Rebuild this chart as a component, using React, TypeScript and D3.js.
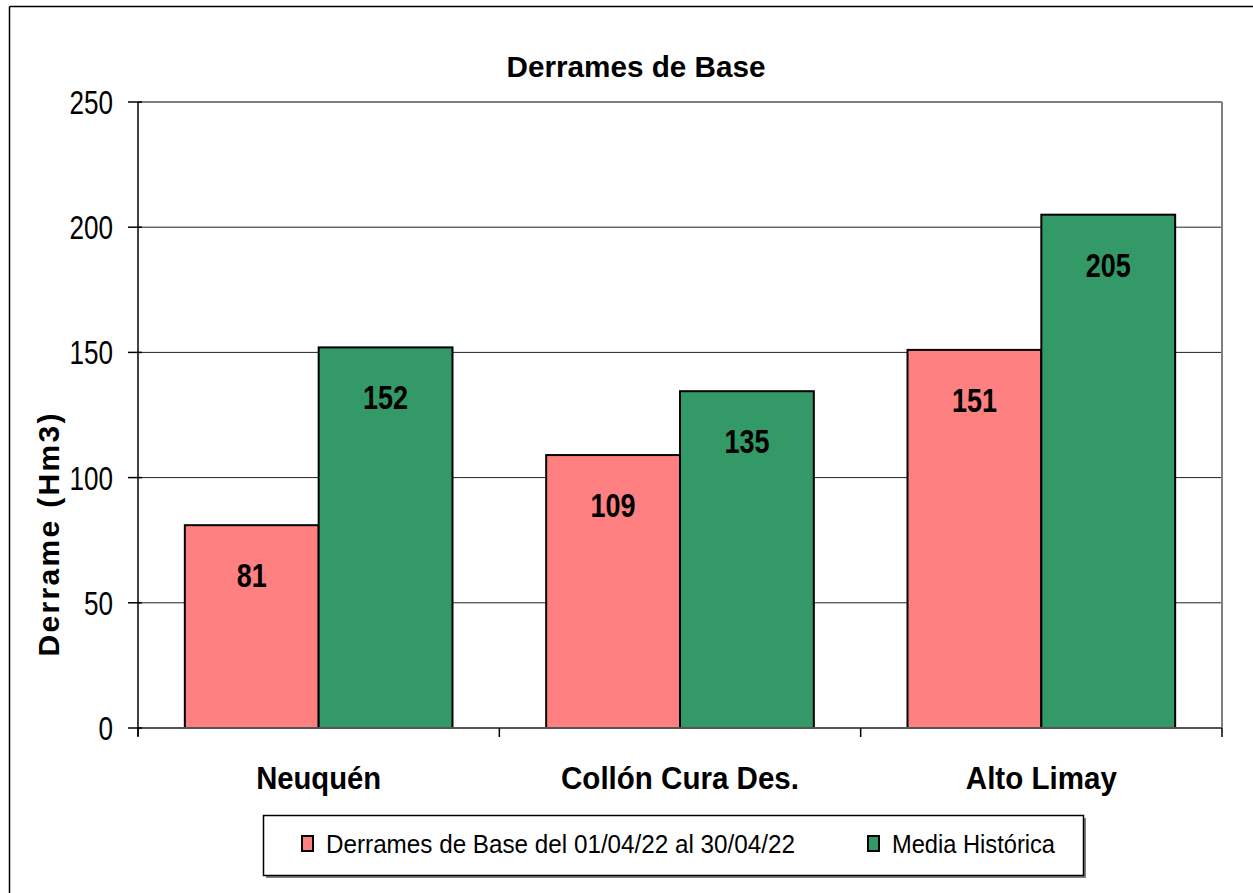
import React from "react";
import * as d3 from "d3";

const categories = ["Neuquén", "Collón Cura Des.", "Alto Limay"];
const seriesNames = ["Derrames de Base del 01/04/22 al 30/04/22", "Media Histórica"];
const baseValues = [81, 109, 151];
const mediaValues = [152, 134.5, 205];
const yTicks = [0, 50, 100, 150, 200, 250];
const seriesColors = ["#FF8080", "#339966"];

const W = 1253;
const H = 893;
const plot = { left: 138, right: 1222, top: 102, bottom: 728 };
const FONT = "'Liberation Sans', Arial, sans-serif";

export default function App() {
  const x0 = d3.scaleBand<string>().domain(categories).range([plot.left, plot.right]).padding(0);
  const x1 = d3
    .scaleBand<string>()
    .domain(seriesNames)
    .range([0, x0.bandwidth()])
    .paddingInner(0)
    .paddingOuter(0.35);
  const y = d3.scaleLinear().domain([0, 250]).range([plot.bottom, plot.top]);
  const series = [baseValues, mediaValues];
  const catWidths = [125, 238, 151];
  const boundaries = [...categories.map((c) => x0(c) as number), plot.right];

  return (
    <svg
      width={W}
      height={H}
      style={{ position: "absolute", left: 0, top: 0, background: "#fff" }}
      fontFamily={FONT}
    >
      <rect x={0} y={0} width={W} height={H} fill="#fff" />
      {/* outer frame */}
      <line x1={9.5} y1={6.5} x2={W} y2={6.5} stroke="#000" strokeWidth={1.5} />
      <line x1={9.5} y1={6.5} x2={9.5} y2={H} stroke="#000" strokeWidth={1.5} />

      {/* title */}
      <text x={636} y={77} textAnchor="middle" fontWeight="bold" fontSize={30} textLength={259} lengthAdjust="spacingAndGlyphs">
        Derrames de Base
      </text>

      {/* gridlines */}
      {yTicks
        .filter((t) => t !== 0 && t !== 250)
        .map((t) => (
          <line key={t} x1={plot.left} x2={plot.right} y1={y(t)} y2={y(t)} stroke="#222" strokeWidth={1} />
        ))}
      {/* plot area border top/right */}
      <line x1={plot.left} x2={plot.right} y1={plot.top} y2={plot.top} stroke="#808080" strokeWidth={2} />
      <line x1={plot.right} x2={plot.right} y1={plot.top} y2={plot.bottom} stroke="#808080" strokeWidth={2} />

      {/* bars */}
      {categories.map((c, i) =>
        seriesNames.map((s, j) => {
          const v = series[j][i];
          const bx = (x0(c) as number) + (x1(s) as number);
          const by = y(v);
          return (
            <g key={c + s}>
              <rect
                x={bx}
                y={by}
                width={x1.bandwidth()}
                height={plot.bottom - by}
                fill={seriesColors[j]}
                stroke="#000"
                strokeWidth={2}
              />
              <text
                x={bx + x1.bandwidth() / 2}
                y={by + 62}
                textAnchor="middle"
                fontWeight="bold"
                fontSize={33}
                textLength={String(Math.round(v)).length * 15}
                lengthAdjust="spacingAndGlyphs"
              >
                {Math.round(v)}
              </text>
            </g>
          );
        })
      )}

      {/* axes */}
      <line x1={plot.left} x2={plot.right} y1={plot.bottom} y2={plot.bottom} stroke="#555" strokeWidth={2} />
      <line x1={plot.left} x2={plot.left} y1={plot.top} y2={plot.bottom + 8} stroke="#000" strokeWidth={1.5} />
      {yTicks.map((t) => (
        <g key={t}>
          <line x1={plot.left - 10} x2={plot.left + 4} y1={y(t)} y2={y(t)} stroke="#000" strokeWidth={1.5} />
          <text
            x={113}
            y={y(t) + 12}
            textAnchor="end"
            fontSize={33}
            textLength={String(t).length * 14.5}
            lengthAdjust="spacingAndGlyphs"
          >
            {t}
          </text>
        </g>
      ))}
      {boundaries.map((bx, i) => (
        <line key={i} x1={bx} x2={bx} y1={plot.bottom} y2={plot.bottom + 9} stroke="#000" strokeWidth={1.5} />
      ))}
      {categories.map((c, i) => (
        <text
          key={c}
          x={(x0(c) as number) + x0.bandwidth() / 2}
          y={789}
          textAnchor="middle"
          fontWeight="bold"
          fontSize={32}
          textLength={catWidths[i]}
          lengthAdjust="spacingAndGlyphs"
        >
          {c}
        </text>
      ))}

      {/* y axis label */}
      <text
        transform="translate(59,535) rotate(-90)"
        textAnchor="middle"
        fontWeight="bold"
        fontSize={30}
        textLength={243}
        lengthAdjust="spacing"
      >
        Derrame (Hm3)
      </text>

      {/* legend */}
      <rect x={266} y={818} width={820} height={60} fill="#808080" />
      <rect x={263.5} y={815.5} width={820} height={60} fill="#fff" stroke="#000" strokeWidth={1.5} />
      {seriesNames.map((s, j) => {
        const lx = [302, 868][j];
        const widths = [469, 163];
        return (
          <g key={s}>
            <rect x={lx} y={836} width={11} height={15} fill={seriesColors[j]} stroke="#000" strokeWidth={2} />
            <text x={lx + 24} y={853} fontSize={26} textLength={widths[j]} lengthAdjust="spacingAndGlyphs">
              {s}
            </text>
          </g>
        );
      })}
    </svg>
  );
}
